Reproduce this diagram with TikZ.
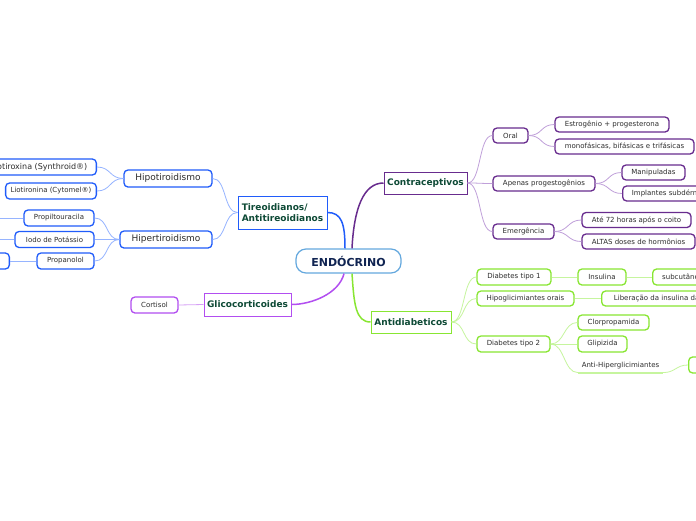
\documentclass[tikz,border=0pt]{standalone}
\usepackage{fontspec}
\setmainfont{DejaVu Sans}
\definecolor{tblue}{RGB}{32,92,250}
\definecolor{tblueL}{RGB}{150,180,255}
\definecolor{cpurp}{RGB}{104,44,142}
\definecolor{cpurpL}{RGB}{192,160,218}
\definecolor{lime}{RGB}{136,230,50}
\definecolor{limeL}{RGB}{198,245,158}
\definecolor{gpurp}{RGB}{178,78,240}
\definecolor{gpurpL}{RGB}{214,160,246}
\definecolor{cenblue}{RGB}{100,168,222}
\definecolor{cenink}{RGB}{16,36,82}
\definecolor{topink}{RGB}{14,74,54}
\definecolor{leafink}{RGB}{45,45,45}
\begin{document}
\begin{tikzpicture}[x=1pt,y=-1pt,every node/.style={font=\fontsize{7}{8}\selectfont},
  leaf/.style={draw=#1,line width=1.3pt,rounded corners=4pt,fill=white,text=leafink,
    minimum height=15pt,inner xsep=5pt,inner ysep=2pt},
  topic/.style={draw=#1,line width=1pt,fill=white,text=topink,
    font=\fontsize{9}{11}\selectfont\bfseries,inner sep=3pt,align=left},
  twig/.style={draw=#1,line width=0.8pt},
  bough/.style={draw=#1,line width=1.5pt}]
  \useasboundingbox (0,0) rectangle (696,520);
  \clip (0,0) rectangle (696,520);
  \fill[white] (0,0) rectangle (696,520);

  % centre
  \node[draw=cenblue,line width=1.2pt,rounded corners=10pt,fill=white,text=cenink,
    font=\fontsize{11}{13}\selectfont\bfseries,minimum width=105,minimum height=24] (endo) at (348.5,261) {ENDÓCRINO};

  % Tireoidianos
  \node[topic=tblue,minimum width=89,minimum height=33] (tireo) at (282.5,212.5) {Tireoidianos/\\Antitireoidianos};
  \node[leaf=tblue,font=\fontsize{9}{11}\selectfont,minimum width=88,minimum height=17] (hipo) at (168,178.5) {Hipotiroidismo};
  \node[leaf=tblue,font=\fontsize{9}{11}\selectfont,minimum width=92,minimum height=17] (hiper) at (166,239.5) {Hipertiroidismo};
  \node[leaf=tblue,font=\fontsize{8}{10}\selectfont,minimum height=16,inner xsep=9pt,anchor=east] (levo) at (97,167) {Levotiroxina (Synthroid®)};
  \node[leaf=tblue,minimum height=16,anchor=east] (lio) at (97,191) {Liotironina (Cytomel®)};
  \node[leaf=tblue,minimum width=70,minimum height=16] (propil) at (59,218) {Propiltouracila};
  \node[leaf=tblue,minimum width=79,minimum height=16] (iodo) at (54.5,239.5) {Iodo de Potássio};
  \node[leaf=tblue,minimum width=57,minimum height=16] (propan) at (65.5,261) {Propanolol};
  \node[leaf=tblue,minimum width=40,minimum height=16,anchor=east] (offbox) at (10,261) {};
  \coordinate (propilEnd) at (-5,218);
  \coordinate (iodoEnd) at (-5,239.5);

  % Glicocorticoides
  \node[topic=gpurp,minimum width=87,minimum height=23] (glico) at (247.5,304.5) {Glicocorticoides};
  \node[leaf=gpurp,minimum width=47,minimum height=16] (cortisol) at (154.5,305) {Cortisol};

  % Contraceptivos
  \node[topic=cpurp,minimum width=83,minimum height=22] (contra) at (425.5,183) {Contraceptivos};
  \node[leaf=cpurp,minimum width=35] (oral) at (510.5,135.5) {Oral};
  \node[leaf=cpurp,minimum width=102] (apenas) at (544,183.5) {Apenas progestogênios};
  \node[leaf=cpurp,minimum width=61] (emerg) at (523.5,231.5) {Emergência};
  \node[leaf=cpurp,minimum width=114] (estro) at (612,124.5) {Estrogênio + progesterona};
  \node[leaf=cpurp,minimum width=139] (mono) at (624.5,146.5) {monofásicas, bifásicas e trifásicas};
  \node[leaf=cpurp,minimum width=63] (manip) at (653.5,172.5) {Manipuladas};
  \node[leaf=cpurp,minimum width=100,anchor=west] (impl) at (622,193.5) {Implantes subdérmicos};
  \node[leaf=cpurp,minimum width=109] (ate) at (636.5,220) {Até 72 horas após o coito};
  \node[leaf=cpurp,minimum width=113] (altas) at (638.5,241.5) {ALTAS doses de hormônios};

  % Antidiabeticos
  \node[topic=lime,minimum width=80,minimum height=22] (anti) at (411,322) {Antidiabeticos};
  \node[leaf=lime,minimum width=74,minimum height=16] (dtA) at (514,277) {Diabetes tipo 1};
  \node[leaf=lime,minimum width=97] (hipog) at (525.5,298.5) {Hipoglicimiantes orais};
  \node[leaf=lime,minimum width=73,minimum height=16] (dtB) at (513.5,344) {Diabetes tipo 2};
  \node[leaf=lime,minimum width=48,minimum height=16] (insul) at (602,277) {Insulina};
  \node[leaf=lime,minimum width=60,minimum height=16,anchor=west] (subc) at (652,277) {subcutânea};
  \node[leaf=lime,minimum width=110,anchor=west] (liber) at (601,298.5) {Liberação da insulina da};
  \node[leaf=lime,minimum width=71] (clorp) at (613.5,322.5) {Clorpropamida};
  \node[leaf=lime,minimum width=49,minimum height=16] (glip) at (602.5,344) {Glipizida};
  \node[text=leafink,minimum width=85,inner ysep=3pt] (ahiper) at (620.5,366) {Anti-Hiperglicimiantes};
  \node[leaf=lime,minimum width=30,minimum height=16,anchor=west] (hbox) at (688,365) {};

  % main branches
  \draw[bough=tblue] ([xshift=-3.5pt]endo.north) .. controls +(0,-25) and +(14,0) .. (tireo.east);
  \draw[bough=cpurp] ([xshift=3.5pt]endo.north) .. controls +(2,-40) and +(-20,0) .. (contra.west);
  \draw[bough=gpurp] ([xshift=-4.5pt]endo.south) .. controls +(-5,20) and +(20,0) .. (glico.east);
  \draw[bough=lime] ([xshift=3.5pt]endo.south) .. controls +(2,30) and +(-15,0) .. (anti.west);

  % left twigs
  \foreach \c in {hipo,hiper}
    \draw[twig=tblueL] (tireo.west) .. controls +(-14,0) and +(14,0) .. (\c.east);
  \foreach \c in {levo,lio}
    \draw[twig=tblueL] (hipo.west) .. controls +(-14,0) and +(14,0) .. (\c.east);
  \foreach \c in {propil,iodo,propan}
    \draw[twig=tblueL] (hiper.west) .. controls +(-14,0) and +(14,0) .. (\c.east);
  \draw[twig=tblueL] (propil.west) -- (propilEnd);
  \draw[twig=tblueL] (iodo.west) -- (iodoEnd);
  \draw[twig=tblueL] (propan.west) -- (offbox.east);
  \draw[twig=gpurpL] (glico.west) -- (cortisol.east);

  % right twigs
  \foreach \c in {oral,apenas,emerg}
    \draw[twig=cpurpL] (contra.east) .. controls +(14,0) and +(-14,0) .. (\c.west);
  \foreach \c in {estro,mono}
    \draw[twig=cpurpL] (oral.east) .. controls +(14,0) and +(-14,0) .. (\c.west);
  \foreach \c in {manip,impl}
    \draw[twig=cpurpL] (apenas.east) .. controls +(14,0) and +(-14,0) .. (\c.west);
  \foreach \c in {ate,altas}
    \draw[twig=cpurpL] (emerg.east) .. controls +(14,0) and +(-14,0) .. (\c.west);
  \foreach \c in {dtA,hipog,dtB}
    \draw[twig=limeL] (anti.east) .. controls +(14,0) and +(-14,0) .. (\c.west);
  \draw[twig=limeL] (dtA.east) -- (insul.west);
  \draw[twig=limeL] (insul.east) -- (subc.west);
  \draw[twig=limeL] (hipog.east) -- (liber.west);
  \foreach \c in {clorp,glip}
    \draw[twig=limeL] (dtB.east) .. controls +(14,0) and +(-14,0) .. (\c.west);
  \draw[twig=limeL] (dtB.east) .. controls +(14,0) and +(-14,0) .. (ahiper.south west);
  \draw[limeL,line width=2pt] (ahiper.south west) -- (ahiper.south east);
  \draw[twig=limeL] (ahiper.south east) .. controls +(12,0) and +(-12,0) .. (hbox.west);
\end{tikzpicture}
\end{document}
